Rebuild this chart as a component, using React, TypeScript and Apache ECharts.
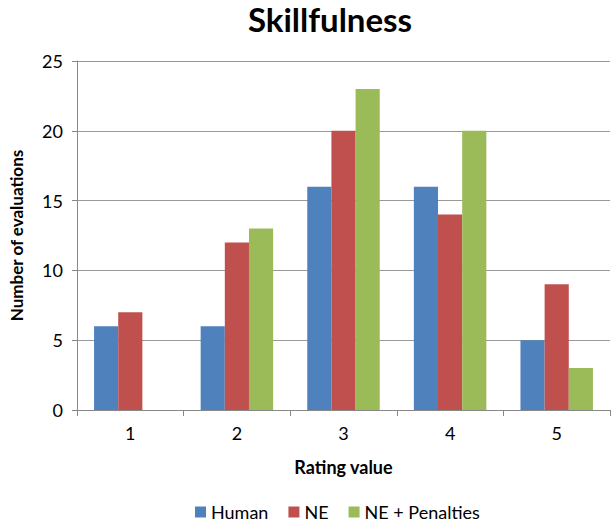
import React, { useEffect, useRef } from "react";
import * as echarts from "echarts";

const categories = ["1", "2", "3", "4", "5"];
const human = [6, 6, 16, 16, 5];
const ne = [7, 12, 20, 14, 9];
const nePenalties = [0, 13, 23, 20, 3];
const seriesNames = ["Human", "NE", "NE + Penalties"];
const colors = ["#4F81BD", "#C0504D", "#9BBB59"];

const FONT = "Lato, 'Open Sans', sans-serif";

export default function App() {
  const ref = useRef<HTMLDivElement>(null);
  useEffect(() => {
    if (!ref.current) return;
    const chart = echarts.init(ref.current, undefined, { renderer: "svg" });
    const data = [human, ne, nePenalties];
    chart.setOption({
      animation: false,
      backgroundColor: "#ffffff",
      title: {
        text: "Skillfulness",
        left: 325,
        textAlign: "center",
        top: -3,
        textStyle: { fontFamily: FONT, fontSize: 33, fontWeight: "bold", color: "#000" },
      },
      legend: {
        bottom: 5,
        left: 190,
        icon: "rect",
        itemWidth: 11,
        itemHeight: 11,
        itemGap: 20,
        textStyle: { fontFamily: FONT, fontSize: 18, color: "#000" },
        data: seriesNames,
      },
      grid: { left: 76, right: 6, top: 61, bottom: 121, containLabel: false },
      xAxis: {
        type: "category",
        data: categories,
        name: "Rating value",
        nameLocation: "middle",
        nameGap: 48,
        nameTextStyle: { fontFamily: FONT, fontSize: 18, fontWeight: "bold", color: "#000" },
        axisLine: { lineStyle: { color: "#888", width: 1 } },
        axisTick: { show: true, length: 6, lineStyle: { color: "#888" } },
        axisLabel: { fontFamily: FONT, fontSize: 18, color: "#000", margin: 14 },
      },
      yAxis: {
        type: "value",
        min: 0,
        max: 25,
        interval: 5,
        name: "Number of evaluations",
        nameLocation: "middle",
        nameGap: 52,
        nameRotate: 90,
        nameTextStyle: { fontFamily: FONT, fontSize: 17, fontWeight: "bold", color: "#000" },
        axisLine: { show: true, lineStyle: { color: "#888", width: 1 } },
        axisTick: { show: true, length: 5, lineStyle: { color: "#888" } },
        axisLabel: { fontFamily: FONT, fontSize: 18, color: "#000", margin: 14 },
        splitLine: { show: true, lineStyle: { color: "#999", width: 1 } },
      },
      series: seriesNames.map((name, i) => ({
        name,
        type: "bar",
        data: data[i],
        itemStyle: { color: colors[i] },
        barGap: "0%",
        barCategoryGap: "32%",
      })),
    });
    return () => chart.dispose();
  }, []);
  return <div ref={ref} style={{ width: 616, height: 531, position: "absolute", left: 0, top: 0 }} />;
}
